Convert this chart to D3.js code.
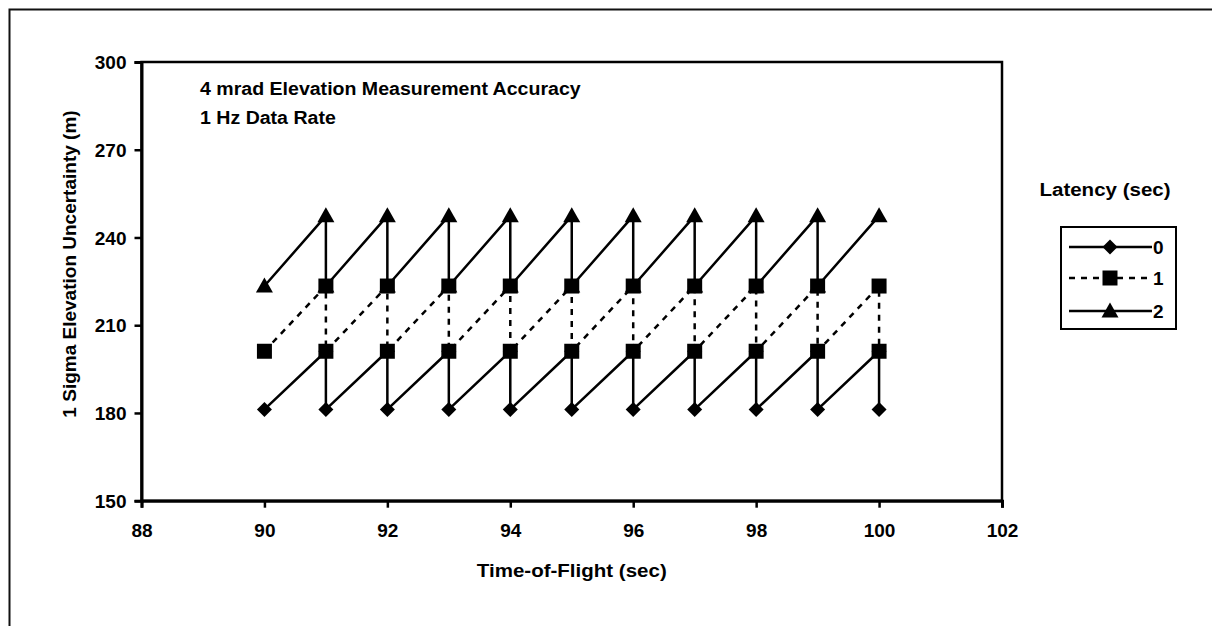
<!DOCTYPE html>
<html>
<head>
<meta charset="utf-8">
<script src="https://cdn.jsdelivr.net/npm/d3@7/dist/d3.min.js"></script>
<style>
  html, body { margin: 0; padding: 0; background: #fff; }
  svg { display: block; }
  text { font-family: "Liberation Sans", Arial, sans-serif; font-weight: bold; fill: #000; }
</style>
</head>
<body>
<svg id="chart" width="1212" height="626"></svg>
<script>
// Time-of-flight samples (sec); each whole second holds two samples (before/after update)
const timeOfFlight = [90, 91, 91, 92, 92, 93, 93, 94, 94, 95, 95, 96, 96, 97, 97, 98, 98, 99, 99, 100, 100];
const timeOfFlight2 = [90, 91, 91, 92, 92, 93, 93, 94, 94, 95, 95, 96, 96, 97, 97, 98, 98, 99, 99, 100];

// 1-sigma elevation uncertainty (m) per latency
const latency0 = [181.2, 201.1, 181.2, 201.1, 181.2, 201.1, 181.2, 201.1, 181.2, 201.1, 181.2,
                  201.1, 181.2, 201.1, 181.2, 201.1, 181.2, 201.1, 181.2, 201.1, 181.2];
const latency1 = [201.1, 223.4, 201.1, 223.4, 201.1, 223.4, 201.1, 223.4, 201.1, 223.4, 201.1,
                  223.4, 201.1, 223.4, 201.1, 223.4, 201.1, 223.4, 201.1, 223.4, 201.1];
const latency2 = [223.4, 247.4, 223.4, 247.4, 223.4, 247.4, 223.4, 247.4, 223.4, 247.4, 223.4,
                  247.4, 223.4, 247.4, 223.4, 247.4, 223.4, 247.4, 223.4, 247.4];

const xTicks = [88, 90, 92, 94, 96, 98, 100, 102];
const yTicks = [150, 180, 210, 240, 270, 300];
const seriesNames = ["0", "1", "2"];

const svg = d3.select("#chart");
const x = d3.scaleLinear().domain([88, 102]).range([141.5, 1002]);
const y = d3.scaleLinear().domain([150, 300]).range([500.7, 62]);

// outer frame
svg.append("rect")
  .attr("x", 9.5).attr("y", 9.5).attr("width", 1300).attr("height", 700)
  .attr("fill", "none").attr("stroke", "#111").attr("stroke-width", 2);

// plot area border
svg.append("rect")
  .attr("x", x(88)).attr("y", y(300))
  .attr("width", x(102) - x(88)).attr("height", y(150) - y(300))
  .attr("fill", "none").attr("stroke", "#000").attr("stroke-width", 2.5);

// axes
const xAxis = svg.append("g")
  .attr("transform", `translate(0,${y(150)})`)
  .call(d3.axisBottom(x).tickValues(xTicks).tickSize(7).tickPadding(0).tickFormat(d3.format("d")));
xAxis.select(".domain").attr("stroke-width", 3);
xAxis.selectAll(".tick line").attr("stroke-width", 2.5);
xAxis.selectAll(".tick text").attr("font-size", 19).attr("y", 0).attr("dy", 36)
  .attr("fill", "#000").style("font-family", '"Liberation Sans", Arial, sans-serif').style("font-weight", "bold");

const yAxis = svg.append("g")
  .attr("transform", `translate(${x(88)},0)`)
  .call(d3.axisLeft(y).tickValues(yTicks).tickSize(7).tickPadding(8).tickFormat(d3.format("d")));
yAxis.select(".domain").attr("stroke-width", 3);
yAxis.selectAll(".tick line").attr("stroke-width", 2.5);
yAxis.selectAll(".tick text").attr("font-size", 19).attr("x", -15).attr("dy", "0.35em")
  .attr("fill", "#000").style("font-family", '"Liberation Sans", Arial, sans-serif').style("font-weight", "bold");

// horizontally widened label helper
function label(tx, ty, str, anchor, sx) {
  return svg.append("text")
    .attr("transform", `translate(${tx},${ty}) scale(${sx},1)`)
    .attr("text-anchor", anchor).attr("font-size", 19).text(str);
}

// axis titles
label((x(88) + x(102)) / 2, 577, "Time-of-Flight (sec)", "middle", 1.08);
svg.append("text").attr("transform", "translate(76,264) rotate(-90)")
  .attr("text-anchor", "middle").attr("font-size", 19).text("1 Sigma Elevation Uncertainty (m)");

// annotations
label(200, 95, "4 mrad Elevation Measurement Accuracy", "start", 1.03);
label(200, 124, "1 Hz Data Rate", "start", 1.03);

// marker shapes
function markerPath(kind) {
  if (kind === 0) return "M0,-7.5L7.5,0L0,7.5L-7.5,0Z";
  if (kind === 1) return "M-7.5,-7.5H7.5V7.5H-7.5Z";
  return "M0,-8.5L8.5,6.5H-8.5Z";
}

const series = [
  { xs: timeOfFlight, ys: latency0, dash: null },
  { xs: timeOfFlight, ys: latency1, dash: "6,6" },
  { xs: timeOfFlight2, ys: latency2, dash: null }
];

const line = d3.line().x(d => x(d[0])).y(d => y(d[1]));

series.forEach((s, i) => {
  const pts = s.xs.map((t, k) => [t, s.ys[k]]);
  svg.append("path").datum(pts)
    .attr("d", line)
    .attr("fill", "none").attr("stroke", "#000").attr("stroke-width", 2.5)
    .attr("stroke-dasharray", s.dash);
});
series.forEach((s, i) => {
  const pts = s.xs.map((t, k) => [t, s.ys[k]]);
  svg.append("g").selectAll("path").data(pts).join("path")
    .attr("transform", d => `translate(${x(d[0])},${y(d[1])})`)
    .attr("d", markerPath(i)).attr("fill", "#000");
});

// legend
label(1105, 196, "Latency (sec)", "middle", 1.08);
svg.append("rect").attr("x", 1061).attr("y", 227).attr("width", 115).attr("height", 102)
  .attr("fill", "#fff").attr("stroke", "#000").attr("stroke-width", 2);
const legendY = [247, 278, 311];
seriesNames.forEach((name, i) => {
  const g = svg.append("g").attr("transform", `translate(0,${legendY[i]})`);
  g.append("line").attr("x1", 1069).attr("x2", 1152).attr("y1", 0).attr("y2", 0)
    .attr("stroke", "#000").attr("stroke-width", 2.5)
    .attr("stroke-dasharray", series[i].dash);
  g.append("path").attr("transform", "translate(1110,0)").attr("d", markerPath(i)).attr("fill", "#000");
  g.append("text").attr("x", 1153).attr("y", 7).attr("font-size", 19).text(name);
});
</script>
</body>
</html>
